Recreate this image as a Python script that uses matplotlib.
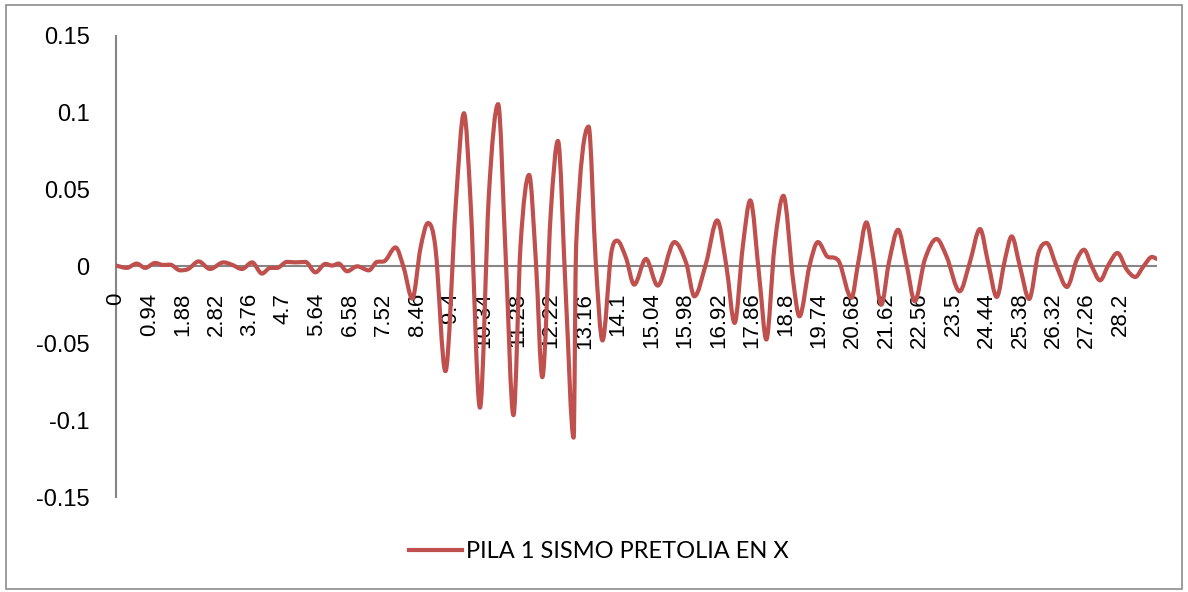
import numpy as np
import matplotlib.pyplot as plt
from matplotlib.patches import Rectangle, PathPatch
from matplotlib.path import Path
from matplotlib.lines import Line2D

# tiempo (s) y desplazamiento
t = [0.00, 0.30, 0.58, 0.82, 1.10, 1.33, 1.52, 1.80, 2.03, 2.32,
     2.64, 3.02, 3.25, 3.54, 3.82, 4.10, 4.33, 4.52, 4.80, 5.04,
     5.32, 5.60, 5.88, 6.07, 6.25, 6.49, 6.77, 7.10, 7.33, 7.52,
     7.85, 8.08, 8.32, 8.55, 8.76, 8.97, 9.25, 9.54, 9.77, 9.96,
     10.22, 10.47, 10.73, 10.94, 11.16, 11.36, 11.60, 11.79, 11.97, 12.21,
     12.41, 12.63, 12.85, 12.92, 13.27, 13.47, 13.66, 13.90, 14.07, 14.32,
     14.55, 14.88, 15.21, 15.68, 16.01, 16.24, 16.57, 16.88, 17.14, 17.37,
     17.60, 17.81, 18.07, 18.26, 18.49, 18.74, 19.01, 19.19, 19.47, 19.71,
     19.99, 20.18, 20.32, 20.65, 20.84, 21.07, 21.26, 21.49, 21.70, 21.96,
     22.19, 22.43, 22.71, 23.04, 23.32, 23.69, 23.97, 24.26, 24.49, 24.73,
     24.96, 25.15, 25.38, 25.64, 25.90, 26.13, 26.41, 26.70, 26.98, 27.18,
     27.40, 27.63, 27.87, 28.12, 28.38, 28.62, 28.85, 29.09, 29.23]
desp = [0.0005, -0.0010, 0.0018, -0.0010, 0.0022, 0.0009, 0.0011, -0.0026, -0.0017, 0.0032,
        -0.0017, 0.0026, 0.0011, -0.0017, 0.0026, -0.0047, -0.0010, -0.0010, 0.0029, 0.0026,
        0.0029, -0.0039, 0.0016, 0.0005, 0.0018, -0.0032, 0.0000, -0.0026, 0.0029, 0.0032,
        0.0123, -0.0010, -0.0210, 0.0119, 0.0282, 0.0119, -0.0682, 0.0401, 0.0996, 0.0401,
        -0.0919, 0.0466, 0.1055, 0.0076, -0.0968, 0.0141, 0.0595, 0.0032, -0.0721, 0.0357,
        0.0816, -0.0184, -0.1114, 0.0141, 0.0909, 0.0032, -0.0482, 0.0076, 0.0167, 0.0055,
        -0.0119, 0.0048, -0.0125, 0.0158, 0.0022, -0.0195, 0.0022, 0.0299, 0.0000, -0.0368,
        0.0130, 0.0429, -0.0086, -0.0476, 0.0130, 0.0459, -0.0086, -0.0325, 0.0000, 0.0158,
        0.0061, 0.0055, 0.0022, -0.0205, 0.0022, 0.0286, 0.0065, -0.0249, 0.0022, 0.0238,
        0.0022, -0.0227, 0.0044, 0.0178, 0.0065, -0.0162, 0.0022, 0.0243, 0.0022, -0.0199,
        0.0044, 0.0195, 0.0000, -0.0212, 0.0087, 0.0152, 0.0000, -0.0134, 0.0044, 0.0108,
        0.0000, -0.0091, 0.0011, 0.0087, -0.0021, -0.0069, 0.0000, 0.0061, 0.0048]

x_ticks = [round(0.94 * i, 2) for i in range(31)]
x_labels = [f"{v:g}" for v in x_ticks]
y_ticks = [-0.15, -0.1, -0.05, 0, 0.05, 0.1, 0.15]
y_labels = ["-0.15", "-0.1", "-0.05", "0", "0.05", "0.1", "0.15"]

RED = "#C0504D"
GRAY = "#868686"


def smooth_path(x, y):
    # linea suavizada (como la opcion "linea suavizada" de Excel): Hermite en forma Bezier
    x = np.asarray(x, float)
    y = np.asarray(y, float)
    n = len(x)
    sec = np.diff(y) / np.diff(x)
    m = np.zeros(n)
    m[0], m[-1] = sec[0], sec[-1]
    for i in range(1, n - 1):
        if sec[i - 1] * sec[i] <= 0:
            m[i] = 0
        else:
            m[i] = (y[i + 1] - y[i - 1]) / (x[i + 1] - x[i - 1])
            lim = 3 * min(abs(sec[i - 1]), abs(sec[i]))
            m[i] = np.sign(m[i]) * min(abs(m[i]), lim)
    verts = [(x[0], y[0])]
    codes = [Path.MOVETO]
    for i in range(n - 1):
        h = x[i + 1] - x[i]
        verts += [(x[i] + h / 3, y[i] + m[i] * h / 3),
                  (x[i + 1] - h / 3, y[i + 1] - m[i + 1] * h / 3),
                  (x[i + 1], y[i + 1])]
        codes += [Path.CURVE4] * 3
    return Path(verts, codes)


fig = plt.figure(figsize=(11.88, 5.92), dpi=100)
ax = fig.add_axes([116 / 1188, 1 - 497 / 592, (1157 - 116) / 1188, (497 - 35.7) / 592])

ax.axhline(0, color=GRAY, lw=1.5, zorder=1)
ax.add_patch(PathPatch(smooth_path(t, desp), facecolor="none", edgecolor=RED,
                       lw=3, joinstyle="round", capstyle="round", zorder=2))

ax.set_xlim(0, 29.23)
ax.set_ylim(-0.15, 0.15)

for s in ["top", "right"]:
    ax.spines[s].set_visible(False)
ax.spines["left"].set_color(GRAY)
ax.spines["left"].set_linewidth(1.5)
ax.spines["left"].set_zorder(1)
ax.spines["bottom"].set_position(("data", 0))
ax.spines["bottom"].set_color("none")

ax.set_yticks(y_ticks)
ax.set_yticklabels(y_labels, fontsize=17, family=["Liberation Sans", "DejaVu Sans"])
ax.tick_params(axis="y", length=0, pad=19)
ax.set_xticks(x_ticks)
ax.set_xticklabels(x_labels, rotation=90, fontsize=16,
                   family=["Liberation Sans", "DejaVu Sans"])
ax.tick_params(axis="x", length=0, pad=19)

handle = Line2D([], [], color=RED, lw=3)
ax.legend([handle], ["PILA 1 SISMO PRETOLIA EN X"], loc="center",
          bbox_to_anchor=(599 / 1188, 1 - 552 / 592),
          bbox_transform=fig.transFigure, frameon=False, handlelength=2.25,
          handletextpad=0.15, prop={"family": ["Lato", "DejaVu Sans"], "size": 17})

fig.patches.append(Rectangle((6 / 1188, 3 / 592), 1176 / 1188, 584 / 592,
                             transform=fig.transFigure, fill=False,
                             edgecolor="#8C8C8C", lw=1.2))

fig.savefig("out.png", dpi=100)
